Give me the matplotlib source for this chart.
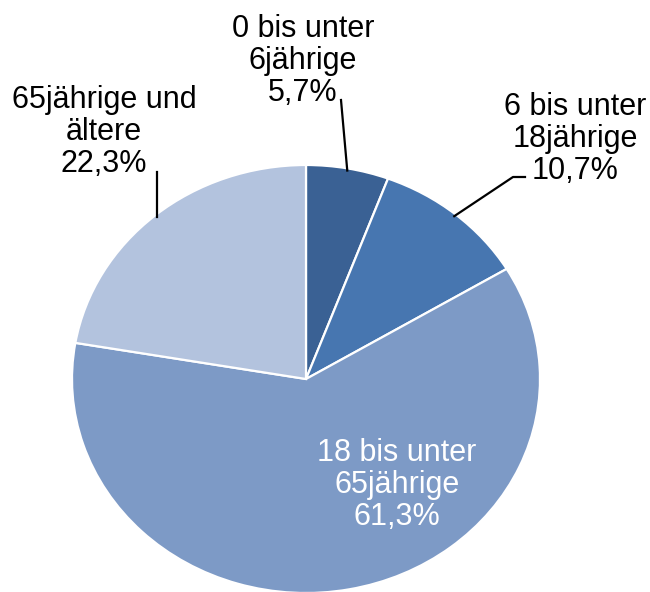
import numpy as np
import matplotlib
matplotlib.use('Agg')
import matplotlib.pyplot as plt

# --- Daten ---
labels = ["0 bis unter\n6jährige", "6 bis unter\n18jährige",
          "18 bis unter\n65jährige", "65jährige und\nältere"]
werte = [5.7, 10.7, 61.3, 22.3]
farben = ["#3A6194", "#4776B0", "#7D9AC6", "#B3C3DE"]

plt.rcParams['font.family'] = ['Liberation Sans', 'DejaVu Sans']

W, H = 650, 592
fig = plt.figure(figsize=(W / 100, H / 100), dpi=100)

# Kreis im Bild leicht horizontal gestreckt (Ellipse)
cx, cy, rx, ry = 306, 379, 234, 214
ax = fig.add_axes([(cx - rx) / W, (H - (cy + ry)) / H, 2 * rx / W, 2 * ry / H])

wedges, _ = ax.pie(werte, colors=farben, startangle=90, counterclock=False,
                   radius=1, wedgeprops=dict(edgecolor='white', linewidth=1.6))
ax.set_aspect('auto')
ax.set_xlim(-1, 1)
ax.set_ylim(-1, 1)
ax.axis('off')

def px(x, y):
    # Pixelkoordinaten -> Datenkoordinaten
    return (x - cx) / rx, (cy - y) / ry

def mitte(w, r=1.0):
    a = np.deg2rad((w.theta1 + w.theta2) / 2)
    return r * np.cos(a), r * np.sin(a)

texte = [f"{l}\n{v:.1f}%".replace('.', ',') for l, v in zip(labels, werte)]
positionen = [(303, 61), (575, 139), (397, 485), (104, 132)]
textfarben = ['black', 'black', 'white', 'black']
for t, (x, y), c in zip(texte, positionen, textfarben):
    ax.text(*px(x, y), t, ha='center', va='center', fontsize=22,
            linespacing=1.1, color=c, clip_on=False)

# Führungslinien
lw = 1.6
m = mitte(wedges[0], 0.99)
p = px(341, 100)
ax.plot([m[0], p[0]], [m[1], p[1]], color='black', lw=lw, clip_on=False)

m = mitte(wedges[1], 0.99)
p1, p2 = px(513, 177), px(525, 177)
ax.plot([m[0], p1[0], p2[0]], [m[1], p1[1], p2[1]], color='black', lw=lw, clip_on=False)

m = mitte(wedges[3], 0.99)
p = px(154, 172)
ax.plot([m[0], m[0]], [m[1], p[1]], color='black', lw=lw, clip_on=False)

fig.savefig('out.png', dpi=100)
